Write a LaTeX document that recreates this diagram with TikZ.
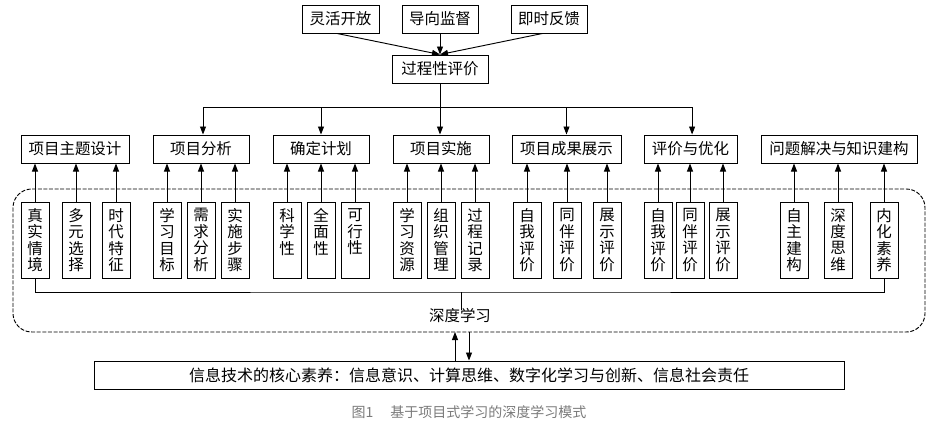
\documentclass[tikz,border=0pt]{standalone}
\usepackage{fontspec}
\setmainfont{Noto Sans CJK SC}
\usetikzlibrary{arrows.meta}
\begin{document}
\begin{tikzpicture}[x=0.75pt,y=-0.75pt,
  every node/.style={inner sep=0pt, font=\fontsize{11.6}{12.3}\selectfont},
  hbox/.style={draw, line width=0.75pt, minimum height=21pt, minimum width=#1*0.75pt},
  vbox/.style={draw, line width=0.75pt, minimum height=57pt, minimum width=21pt, align=center},
  arr/.style={-{Triangle[length=6pt,width=4.5pt]}, line width=0.7pt},
  ln/.style={line width=0.7pt}]
\useasboundingbox (0,0) rectangle (939,426);

% dashed frame
\draw[ln, dash pattern=on 3pt off 1.2pt, rounded corners=14pt] (13,189) rectangle (925,332);

% top
\node[hbox=77] (t1) at (340.5,19) {灵活开放};
\node[hbox=76] (t2) at (440,19) {导向监督};
\node[hbox=76] (t3) at (549,19) {即时反馈};
\node[hbox=96] (gc) at (440,69) {过程性评价};
\draw[arr] ([xshift=-2.5pt]t1.south) -- (gc.north);
\draw[arr] (t2.south) -- (gc.north);
\draw[arr] ([xshift=-5pt]t3.south) -- (gc.north);

% second row
\node[hbox=108] (m1) at (75,149) {项目主题设计};
\node[hbox=96] (m2) at (201,149) {项目分析};
\node[hbox=96] (m3) at (321,149) {确定计划};
\node[hbox=96] (m4) at (441,149) {项目实施};
\node[hbox=109] (m5) at (566.5,149) {项目成果展示};
\node[hbox=93] (m6) at (690.5,149) {评价与优化};
\node[hbox=156] (m7) at (839,149) {问题解决与知识建构};

\coordinate (j) at (440,107);
\draw[ln] ([xshift=1.5pt]m2.north |- j) -- ([xshift=1.2pt]m6.north |- j);
\draw[arr] ([xshift=1.5pt]m2.north |- j) -- ([xshift=1.5pt]m2.north);
\draw[arr] (m3.north |- j) -- (m3.north);
\draw[arr] (gc.south) -- (gc.south |- m4.north);
\draw[arr] (m5.north |- j) -- (m5.north);
\draw[arr] ([xshift=1.2pt]m6.north |- j) -- ([xshift=1.2pt]m6.north);

% small boxes
\node[vbox] (s1) at (35,240) {真\\实\\情\\境};
\node[vbox] (s2) at (76,240) {多\\元\\选\\择};
\node[vbox] (s3) at (116,240) {时\\代\\特\\征};
\node[vbox] (s4) at (167,240) {学\\习\\目\\标};
\node[vbox] (s5) at (201,240) {需\\求\\分\\析};
\node[vbox] (s6) at (235,240) {实\\施\\步\\骤};
\node[vbox] (s7) at (287,240) {科\\学\\性\\\phantom{性}};
\node[vbox] (s8) at (321,240) {全\\面\\性\\\phantom{性}};
\node[vbox] (s9) at (355,240) {可\\行\\性\\\phantom{性}};
\node[vbox] (s10) at (407,240) {学\\习\\资\\源};
\node[vbox] (s11) at (441,240) {组\\织\\管\\理};
\node[vbox] (s12) at (475,240) {过\\程\\记\\录};
\node[vbox] (s13) at (527,240) {自\\我\\评\\价};
\node[vbox] (s14) at (567,240) {同\\伴\\评\\价};
\node[vbox] (s15) at (607,240) {展\\示\\评\\价};
\node[vbox] (s16) at (658,240) {自\\我\\评\\价};
\node[vbox] (s17) at (690,240) {同\\伴\\评\\价};
\node[vbox] (s18) at (723,240) {展\\示\\评\\价};
\node[vbox] (s19) at (794,240) {自\\主\\建\\构};
\node[vbox] (s20) at (838,240) {深\\度\\思\\维};
\node[vbox] (s21) at (884,240) {内\\化\\素\\养};

\foreach \s/\m in {s1/m1,s2/m1,s3/m1,s4/m2,s5/m2,s6/m2,s7/m3,s8/m3,s9/m3,
  s10/m4,s11/m4,s12/m4,s13/m5,s14/m5,s15/m5,s16/m6,s17/m6,s18/m6,s19/m7,s20/m7,s21/m7}
  \draw[arr] (\s.north) -- (\s.north |- \m.south);

% bottom collector
\node (dl) at (460,316) {深度学习};
\coordinate (hb) at (461,292);
\draw[ln] (s1.south) |- (hb) -| (s21.south);
\draw[ln] (hb) -- ([yshift=-1pt]hb |- dl.north);

% core literacy box
\node[hbox=750, font=\fontsize{12}{14}\selectfont] (bb) at (469,375) {信息技术的核心素养：信息意识、计算思维、数字化学习与创新、信息社会责任};
\coordinate (r1) at (455,332);
\coordinate (r2) at (469,332);
\draw[arr] (r1 |- bb.north) -- (r1);
\draw[arr] (r2) -- (r2 |- bb.north);

% caption
\node[text=black!52, font=\fontsize{10.5}{12}\selectfont] (cap) at (469,412) {图1\hspace{1.2em}基于项目式学习的深度学习模式};
\end{tikzpicture}
\end{document}
